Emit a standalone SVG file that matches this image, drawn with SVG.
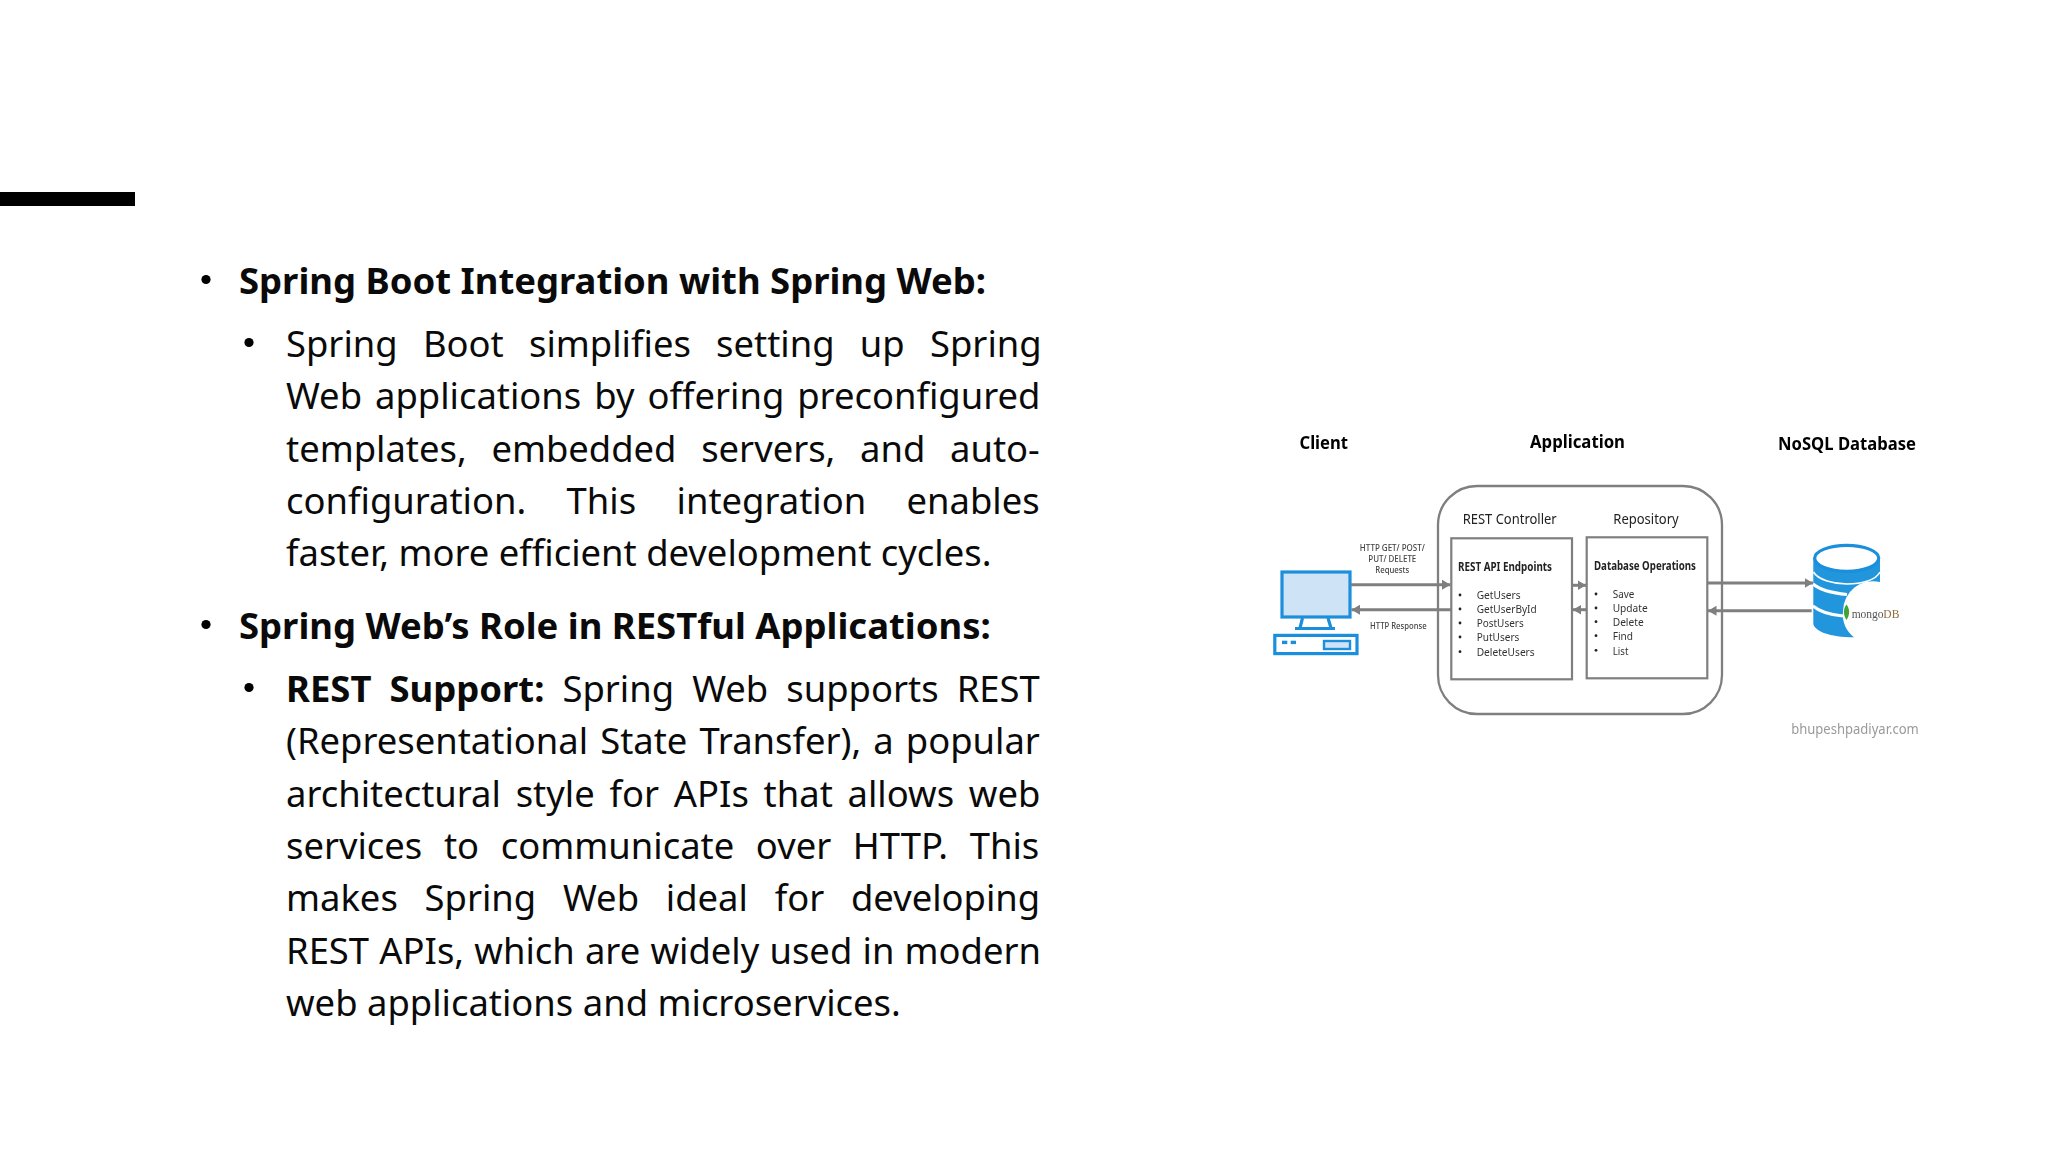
<svg xmlns="http://www.w3.org/2000/svg" width="2048" height="1152" viewBox="0 0 2048 1152">
<style>
text{font-family:"Noto Sans","Open Sans",sans-serif;fill:#000}
.m{font-size:36.4px;fill:#0a0a0a}
.b{font-weight:700;font-size:36.45px}
.h{font-size:17.5px;font-weight:700}
.t{font-size:14.5px;fill:#222}
.s{font-size:11.5px;font-weight:700;fill:#222}
.i{font-size:11.5px;fill:#333}
.l{font-size:9.5px;font-weight:500;fill:#444}
.box{fill:#fff;stroke:#7f7f7f;stroke-width:2.2}
.c{stroke:#7f7f7f;stroke-width:3;fill:none}
.blue{fill:none;stroke:#1c8fdc;stroke-width:3.2}
.bf{fill:#1c8fdc}
</style>
<defs>
<marker id="a" markerUnits="userSpaceOnUse" markerWidth="10" markerHeight="12" refX="8.5" refY="6" orient="auto"><path d="M0 1L8.5 6L0 11z" fill="#7f7f7f"/></marker>
<filter id="soft" x="-5%" y="-5%" width="110%" height="110%"><feGaussianBlur stdDeviation="0.35"/></filter>
</defs>
<rect width="2048" height="1152" fill="#fff"/>
<rect id="accent" x="0" y="192" width="135" height="14" fill="#000"/>
<g id="slide-text">
<circle cx="206" cy="279.5" r="4.6"/>
<text class="m b" x="239" y="294">Spring Boot Integration with Spring Web:</text>
<circle cx="249" cy="342.5" r="4.6"/>
<text class="m" x="286" y="357" word-spacing="15.8">Spring Boot simplifies setting up Spring</text>
<text class="m" x="286" y="409.3" word-spacing="3.5">Web applications by offering preconfigured</text>
<text class="m" x="286" y="461.6" word-spacing="15.2">templates, embedded servers, and auto-</text>
<text class="m" x="286" y="513.9" word-spacing="30.9">configuration. This integration enables</text>
<text class="m" x="286" y="566.2">faster, more efficient development cycles.</text>
<circle cx="206" cy="624.5" r="4.6"/>
<text class="m b" x="239" y="639">Spring Web’s Role in RESTful Applications:</text>
<circle cx="249" cy="687.5" r="4.6"/>
<text class="m" x="286" y="702" word-spacing="8.6"><tspan class="b">REST Support:</tspan> Spring Web supports REST</text>
<text class="m" x="286" y="754.3" word-spacing="2.6">(Representational State Transfer), a popular</text>
<text class="m" x="286" y="806.6" word-spacing="5.3">architectural style for APIs that allows web</text>
<text class="m" x="286" y="858.9" word-spacing="12.2">services to communicate over HTTP. This</text>
<text class="m" x="286" y="911.2" word-spacing="17.3">makes Spring Web ideal for developing</text>
<text class="m" x="286" y="963.5" word-spacing="0.75">REST APIs, which are widely used in modern</text>
<text class="m" x="286" y="1015.8">web applications and microservices.</text>
</g>
<g filter="url(#soft)">
<g id="application">
<rect x="1438" y="486" width="284" height="228" rx="39" fill="#fff" stroke="#7f7f7f" stroke-width="2.3"/>
<text class="h" x="1530" y="448" textLength="95" lengthAdjust="spacingAndGlyphs">Application</text>
<text class="t" x="1462.7" y="523.6" textLength="94" lengthAdjust="spacingAndGlyphs">REST Controller</text>
<text class="t" x="1613.3" y="523.6" textLength="65.4" lengthAdjust="spacingAndGlyphs">Repository</text>
</g>
<g id="rest-controller">
<rect class="box" x="1451.3" y="538.3" width="120.7" height="141"/>
<text class="s" x="1458" y="570.8" textLength="94" lengthAdjust="spacingAndGlyphs">REST API Endpoints</text>
<g fill="#222"><circle cx="1460" cy="595" r="1.4"/><circle cx="1460" cy="609" r="1.4"/><circle cx="1460" cy="623" r="1.4"/><circle cx="1460" cy="637" r="1.4"/><circle cx="1460" cy="651.7" r="1.4"/></g>
<text class="i" x="1476.7" y="599" textLength="44" lengthAdjust="spacingAndGlyphs">GetUsers</text>
<text class="i" x="1476.7" y="613" textLength="60" lengthAdjust="spacingAndGlyphs">GetUserById</text>
<text class="i" x="1476.7" y="627" textLength="47" lengthAdjust="spacingAndGlyphs">PostUsers</text>
<text class="i" x="1476.7" y="640.8" textLength="42.7" lengthAdjust="spacingAndGlyphs">PutUsers</text>
<text class="i" x="1476.7" y="655.8" textLength="58" lengthAdjust="spacingAndGlyphs">DeleteUsers</text>
</g>
<g id="repository">
<rect class="box" x="1586.7" y="537.3" width="120.6" height="141"/>
<text class="s" x="1594" y="569.5" textLength="102" lengthAdjust="spacingAndGlyphs">Database Operations</text>
<g fill="#222"><circle cx="1596" cy="594" r="1.4"/><circle cx="1596" cy="608" r="1.4"/><circle cx="1596" cy="621.7" r="1.4"/><circle cx="1596" cy="635.7" r="1.4"/><circle cx="1596" cy="650.3" r="1.4"/></g>
<text class="i" x="1612.7" y="598" textLength="21.7" lengthAdjust="spacingAndGlyphs">Save</text>
<text class="i" x="1612.7" y="612" textLength="35" lengthAdjust="spacingAndGlyphs">Update</text>
<text class="i" x="1612.7" y="626" textLength="31" lengthAdjust="spacingAndGlyphs">Delete</text>
<text class="i" x="1612.7" y="640" textLength="20.3" lengthAdjust="spacingAndGlyphs">Find</text>
<text class="i" x="1612.7" y="655" textLength="15.7" lengthAdjust="spacingAndGlyphs">List</text>
</g>
<g id="client">
<text class="h" x="1299.5" y="449.3" textLength="48.5" lengthAdjust="spacingAndGlyphs">Client</text>
<rect x="1282" y="572" width="68" height="45" fill="#cfe3f6" stroke="#1c8fdc" stroke-width="3.2"/>
<path class="blue" d="M1302.5 618L1300 628M1328 618L1331 628"/>
<path class="blue" d="M1295 628.5H1335"/>
<rect class="blue" x="1274.8" y="635.4" width="82.2" height="18.2" style="fill:#fff"/>
<rect class="bf" x="1282" y="640.7" width="5.3" height="3.4"/>
<rect class="bf" x="1290.7" y="640.7" width="5.3" height="3.4"/>
<rect x="1324" y="641" width="26" height="8" fill="#cfe3f6" stroke="#1c8fdc" stroke-width="2.4"/>
</g>
<g id="database">
<text class="h" x="1778" y="449.6" textLength="138" lengthAdjust="spacingAndGlyphs">NoSQL Database</text>
<path d="M1813.3 558V623C1813.3 631 1830 637.3 1854 637.3A30 30 0 0 1 1843 611A30 30 0 0 1 1880 582V558z" fill="#2196dc"/>
<path d="M1813.5 572C1818 580 1834 584 1847 584C1862 584 1876 580 1880 572" fill="none" stroke="#fff" stroke-width="1.6"/>
<path d="M1813 584C1820 590 1832 593 1847 594.5M1813 606C1820 612 1832 615 1843 616" fill="none" stroke="#fff" stroke-width="3"/>
<ellipse cx="1846.7" cy="558.3" rx="32" ry="13" fill="#fff" stroke="#1c8fdc" stroke-width="3.2"/>
<path d="M1846.5 604.5C1843 609 1843 615 1846.5 620C1850 615 1850 609 1846.5 604.5z" fill="#3fa535"/>
<text x="1851.7" y="618" font-size="11.5" textLength="47.6" style="font-family:'Liberation Serif',serif;fill:#555">mongo<tspan style="fill:#8a6d3b">DB</tspan></text>
</g>
<g id="credit"><text x="1791.2" y="734" font-size="14" textLength="127.6" lengthAdjust="spacingAndGlyphs" style="fill:#9a9a9a">bhupeshpadiyar.com</text></g>
<g id="connectors">
<path class="c" d="M1350.7 584.7H1450.5" marker-end="url(#a)"/>
<path class="c" d="M1451 609.7H1351.5" marker-end="url(#a)"/>
<path class="c" d="M1572.7 585.3H1586" marker-end="url(#a)"/>
<path class="c" d="M1586.5 609.7H1572.8" marker-end="url(#a)"/>
<path class="c" d="M1707.7 583H1813" marker-end="url(#a)"/>
<path class="c" d="M1811.7 610.7H1708" marker-end="url(#a)"/>
<text class="l" x="1359.8" y="550.8" textLength="65" lengthAdjust="spacingAndGlyphs">HTTP GET/ POST/</text>
<text class="l" x="1368.3" y="561.8" textLength="48" lengthAdjust="spacingAndGlyphs">PUT/ DELETE</text>
<text class="l" x="1375.3" y="572.8" textLength="34" lengthAdjust="spacingAndGlyphs">Requests</text>
<text class="l" x="1370" y="629" textLength="56.7" lengthAdjust="spacingAndGlyphs">HTTP Response</text>
</g>
</g>
</svg>
